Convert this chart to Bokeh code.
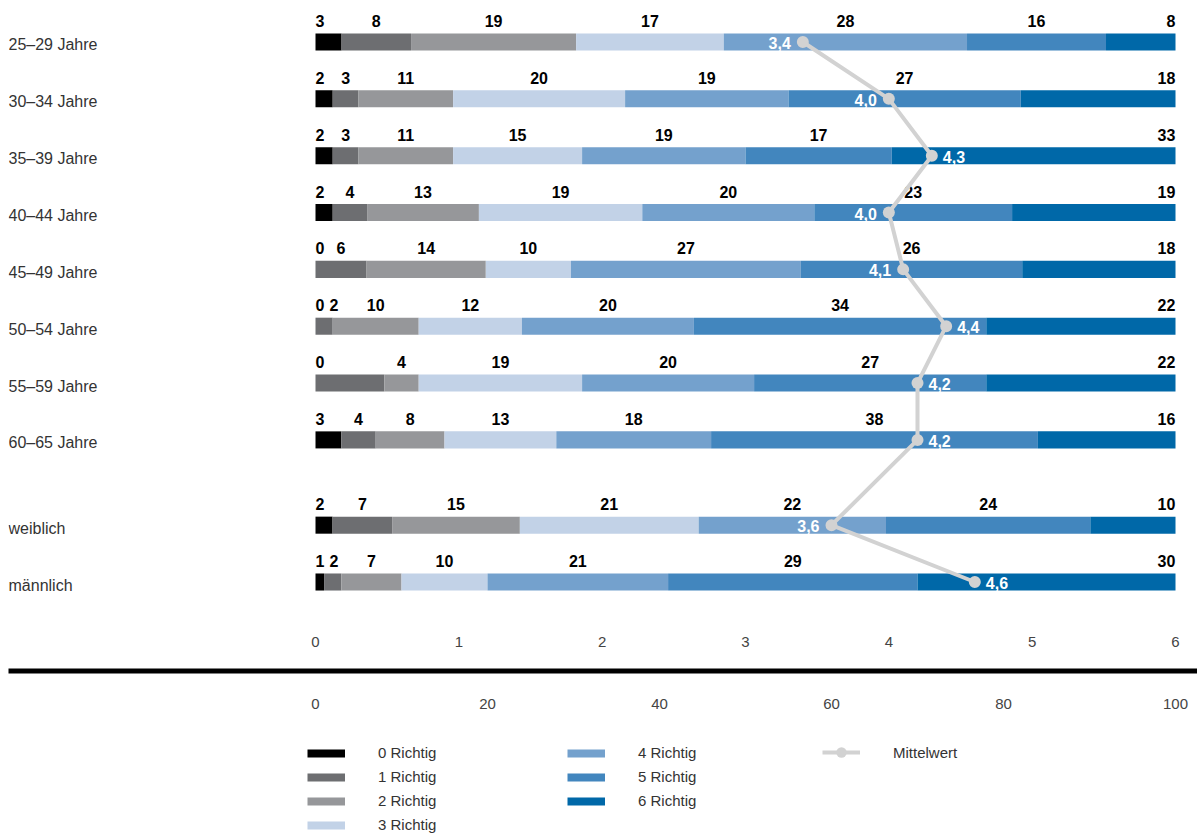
from bokeh.plotting import figure
from bokeh.models import (ColumnDataSource, FactorRange, Range1d, LinearAxis,
                          FixedTicker, Legend, LegendItem)
from bokeh.layouts import column
from bokeh.core.properties import value
from bokeh.embed import file_html
from bokeh.resources import INLINE

# ---------------- data ----------------
rows = ["25–29 Jahre", "30–34 Jahre", "35–39 Jahre", "40–44 Jahre", "45–49 Jahre",
        "50–54 Jahre", "55–59 Jahre", "60–65 Jahre", "weiblich", "männlich"]
groups = ["Alter"] * 8 + ["Geschlecht"] * 2
categories = ["0 Richtig", "1 Richtig", "2 Richtig", "3 Richtig",
              "4 Richtig", "5 Richtig", "6 Richtig"]
colors = ["#000000", "#6d6e71", "#96979a", "#c2d2e7", "#74a1cd", "#4286be", "#0068a8"]

r0 = [3, 2, 2, 2, 0, 0, 0, 3, 2, 1]
r1 = [8, 3, 3, 4, 6, 2, 8, 4, 7, 2]
r2 = [19, 11, 11, 13, 14, 10, 4, 8, 15, 7]
r3 = [17, 20, 15, 19, 10, 12, 19, 13, 21, 10]
r4 = [28, 19, 19, 20, 27, 20, 20, 18, 22, 21]
r5 = [16, 27, 17, 23, 26, 34, 27, 38, 24, 29]
r6 = [8, 18, 33, 19, 18, 22, 22, 16, 10, 30]
means = [3.4, 4.0, 4.3, 4.0, 4.1, 4.4, 4.2, 4.2, 3.6, 4.6]
mean_label_side = ["left", "left", "right", "left", "left",
                   "right", "right", "right", "left", "right"]
hidden_labels = [("55–59 Jahre", 1)]
score_ticks = [0, 1, 2, 3, 4, 5, 6]
pct_ticks = [0, 20, 40, 60, 80, 100]

shares = [r0, r1, r2, r3, r4, r5, r6]

# ---------------- geometry ----------------
LB = 8                 # left border (page-like inset)
FW = 1197 - LB         # frame width of every panel
PX0, PX1 = 315, 1175   # screen x of 0 % and 100 %
ppu = (PX1 - PX0) / 100.0


def ranges():
    s = (LB - PX0) / ppu
    e = (LB + FW - PX0) / ppu
    return Range1d(s, e), Range1d(s * 6 / 100.0, e * 6 / 100.0)


pct_range, score_range = ranges()
x_start = pct_range.start

FONT = value("Liberation Sans")
TXT = "#333333"

keys = [(g, r) for g, r in zip(groups, rows)]
y_range = FactorRange(*keys[::-1], factor_padding=0, group_padding=0.5,
                      range_padding=0.23, range_padding_units="absolute")

pa = figure(frame_width=FW, frame_height=623, min_border=0, min_border_left=LB,
            x_range=pct_range, y_range=y_range, x_axis_location=None,
            y_axis_location=None, toolbar_location=None, output_backend="svg",
            outline_line_color=None)
pa.extra_x_ranges = {"score": score_range}
pa.xgrid.visible = False
pa.ygrid.visible = False

# bars
totals = [sum(s[i] for s in shares) for i in range(len(rows))]
cum = [0.0] * len(rows)
lefts, rights = [], []
for k, s in enumerate(shares):
    left = list(cum)
    right = [cum[i] + s[i] * 100.0 / totals[i] for i in range(len(rows))]
    lefts.append(left)
    rights.append(right)
    cum = right
    src = ColumnDataSource(dict(y=keys, left=left, right=right))
    pa.hbar(y="y", left="left", right="right", height=0.3, source=src,
            fill_color=colors[k], line_color=None)

# value labels (first left-aligned at bar start, last right-aligned at bar end)
lx, ly, lt = [], [], []
CHAR = 9.0  # approx px per digit, bold 16px
GAP = 5
for i, r in enumerate(rows):
    prev_right = None
    n = len(shares)
    for k in range(n):
        if (r, k) in hidden_labels:
            continue
        t = str(shares[k][i])
        w = CHAR * len(t)
        if k == 0:
            c = PX0 + w / 2
        elif k == n - 1:
            c = PX1 - w / 2
        else:
            c = PX0 + (lefts[k][i] + rights[k][i]) / 2 * ppu
            if prev_right is not None and c - w / 2 < prev_right + GAP:
                c = prev_right + GAP + w / 2
        prev_right = c + w / 2
        lx.append((c - PX0) / ppu)
        ly.append(keys[i])
        lt.append(t)
pa.text(x="x", y="y", text="t", source=ColumnDataSource(dict(x=lx, y=ly, t=lt)),
        text_align="center", text_baseline="middle", y_offset=-21,
        text_font=FONT, text_font_style="bold", text_font_size="16px",
        text_color="#000000")

# row labels
pa.text(x=[x_start] * len(rows), y=keys, text=rows, text_align="left",
        text_baseline="middle", y_offset=3, text_font=FONT,
        text_font_size="16px", text_color=TXT)

# mean line
pa.line(x=means, y=keys, x_range_name="score", line_color="#d2d2d2", line_width=4)
pa.scatter(x=means, y=keys, x_range_name="score", size=12, fill_color="#d2d2d2",
           line_color=None)
for side, off, align in (("left", -12, "right"), ("right", 11, "left")):
    idx = [i for i in range(len(rows)) if mean_label_side[i] == side]
    pa.text(x=[means[i] for i in idx], y=[keys[i] for i in idx],
            text=[f"{means[i]:.1f}".replace(".", ",") for i in idx],
            x_range_name="score", x_offset=off, y_offset=1, text_align=align,
            text_baseline="middle", text_font=FONT, text_font_style="bold",
            text_font_size="16px", text_color="#ffffff")

# ---------------- axes strip ----------------
pct_range_b, score_range_b = ranges()
pb = figure(frame_width=FW, frame_height=5, min_border=0, min_border_left=LB,
            min_border_top=45, min_border_bottom=50, x_range=pct_range_b,
            y_range=Range1d(0, 1), x_axis_location=None, y_axis_location=None,
            toolbar_location=None, output_backend="svg", outline_line_color=None)
pb.extra_x_ranges = {"score": score_range_b}
pb.background_fill_color = "#000000"
pb.xgrid.visible = False
pb.ygrid.visible = False


def style_axis(ax, standoff):
    ax.axis_line_color = None
    ax.major_tick_line_color = None
    ax.minor_tick_line_color = None
    ax.major_label_standoff = standoff
    ax.major_label_text_font = "Liberation Sans"
    ax.major_label_text_font_size = "15px"
    ax.major_label_text_color = "#444444"


ax_top = LinearAxis(x_range_name="score", ticker=FixedTicker(ticks=score_ticks))
style_axis(ax_top, 16)
pb.add_layout(ax_top, "above")
ax_bot = LinearAxis(ticker=FixedTicker(ticks=pct_ticks))
style_axis(ax_bot, 19)
pb.add_layout(ax_bot, "below")

# ---------------- legend ----------------
pc = figure(frame_width=FW, frame_height=112, min_border=0, min_border_left=LB,
            x_range=Range1d(0, 1), y_range=Range1d(0, 1), x_axis_location=None,
            y_axis_location=None, toolbar_location=None, output_backend="svg",
            outline_line_color=None)
pc.xgrid.visible = False
pc.ygrid.visible = False

NAN = [float("nan")]
items = []
for k, c in enumerate(colors):
    rr = pc.line(x=NAN, y=NAN, line_color=c, line_width=8)
    items.append(LegendItem(label=categories[k], renderers=[rr]))
ml = pc.line(x=NAN, y=NAN, line_color="#d2d2d2", line_width=4)
ms = pc.scatter(x=NAN, y=NAN, size=11, fill_color="#d2d2d2", line_color=None)
mean_item = LegendItem(label="Mittelwert", renderers=[ml, ms])


def make_legend(its, loc, gh=16):
    return Legend(items=its, location=loc, orientation="vertical", glyph_width=38,
                  glyph_height=gh, label_height=gh, label_width=20, spacing=7,
                  padding=0, margin=0, label_standoff=33, border_line_color=None,
                  background_fill_alpha=0, label_text_font="Liberation Sans",
                  label_text_font_size="15px", label_text_color=TXT)


pc.add_layout(make_legend(items[:4], (307 - LB, 2)))
pc.add_layout(make_legend(items[4:], (567 - LB, 26)))
pc.add_layout(make_legend([mean_item], (822 - LB, 70), gh=26))

layout = column(pa, pb, pc, spacing=0)
open("out.html", "w").write(file_html(layout, INLINE))
